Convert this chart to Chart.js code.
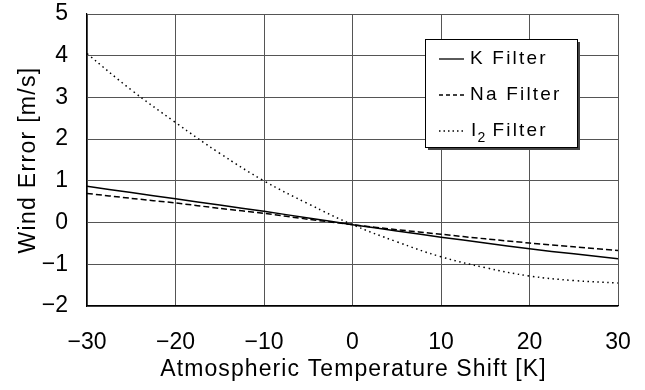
<!DOCTYPE html>
<html><head><meta charset="utf-8">
<script src="https://cdn.jsdelivr.net/npm/chart.js@4/dist/chart.umd.min.js"></script>
<style>html,body{margin:0;padding:0;background:#fff}#wrap{width:645px;height:390px}</style>
</head><body><div id="wrap"><canvas id="c" width="645" height="390"></canvas></div>
<script>
const temps = [-30,-25,-20,-15,-10,-5,0,5,10,15,20,25,30];
const kFilter = [0.87,0.72,0.57,0.42,0.27,0.11,-0.05,-0.2,-0.35,-0.49,-0.63,-0.75,-0.87];
const naFilter = [0.70,0.58,0.47,0.34,0.22,0.08,-0.05,-0.17,-0.28,-0.39,-0.49,-0.58,-0.67];
const i2Filter = [4.05,3.18,2.40,1.66,1.00,0.45,-0.05,-0.46,-0.82,-1.08,-1.28,-1.39,-1.45];
const xTicks = [-30,-20,-10,0,10,20,30];
const yTicks = [-2,-1,0,1,2,3,4,5];
const seriesNames = ['K Filter','Na Filter','I2 Filter'];
const xTitle = 'Atmospheric Temperature Shift [K]';
const yTitle = 'Wind Error [m/s]';

const pts = arr => temps.map((t,i)=>({x:t,y:arr[i]}));
const fmt = v => (v<0 ? '\u2212'+Math.abs(v) : String(v));
const FONT = 'Liberation Sans, Arial, sans-serif';

const canvas = document.getElementById('c');

const titlePlugin = {
  id:'axisTitles',
  afterDraw(chart){
    const ctx = chart.ctx, a = chart.chartArea;
    ctx.save();
    ctx.fillStyle='#000';
    ctx.textAlign='center';ctx.textBaseline='middle';
    ctx.font='23px '+FONT;
    ctx.letterSpacing='1.1px';
    ctx.fillText(xTitle,(a.left+a.right)/2+1,370);
    ctx.letterSpacing='1.3px';
    ctx.translate(29,(a.top+a.bottom)/2);
    ctx.rotate(-Math.PI/2);
    ctx.fillText(yTitle,0,0);
    ctx.restore();
  }
};

const legendPlugin = {
  id:'boxLegend',
  afterDraw(chart){
    const ctx = chart.ctx;
    const x0=425,y0=39,w=152,h=108;
    ctx.save();
    ctx.fillStyle='#444';
    ctx.fillRect(x0+3,y0+3,w,h);
    ctx.fillStyle='#fff';
    ctx.fillRect(x0,y0,w,h);
    ctx.strokeStyle='#000';ctx.lineWidth=1;
    ctx.strokeRect(x0+0.5,y0+0.5,w,h);
    const rows=[59,95,131];
    const dashes=[[],[4,3],[1.5,3]];
    ctx.letterSpacing='2.2px';
    ctx.font='19px '+FONT;
    ctx.textBaseline='middle';
    chart.data.datasets.forEach((ds,i)=>{
      ctx.beginPath();
      ctx.setLineDash(dashes[i]);
      ctx.lineWidth=1.3;ctx.strokeStyle='#000';
      ctx.moveTo(439,rows[i]);ctx.lineTo(464,rows[i]);ctx.stroke();
      ctx.setLineDash([]);
      ctx.fillStyle='#000';
      const name=seriesNames[i];
      if(name==='I2 Filter'){
        ctx.fillText('I',471,rows[i]);
        const wI=ctx.measureText('I').width;
        ctx.font='14px '+FONT;
        ctx.fillText('2',471+wI-1,rows[i]+7);
        const w2=ctx.measureText('2').width;
        ctx.font='19px '+FONT;
        ctx.fillText('Filter',471+wI+w2+4,rows[i]);
      } else {
        ctx.fillText(name,470,rows[i]);
      }
    });
    ctx.restore();
  }
};

new Chart(canvas,{
  type:'line',
  data:{datasets:[
    {label:seriesNames[0],data:pts(kFilter),borderColor:'#000',borderWidth:1.5,pointRadius:0,tension:0.3,fill:false},
    {label:seriesNames[1],data:pts(naFilter),borderColor:'#000',borderWidth:1.5,borderDash:[6,3],pointRadius:0,tension:0.3,fill:false},
    {label:seriesNames[2],data:pts(i2Filter),borderColor:'#000',borderWidth:1.5,borderDash:[1.5,3.5],pointRadius:0,tension:0.4,fill:false}
  ]},
  options:{
    responsive:false,animation:false,
    layout:{padding:{left:0,top:14,right:27,bottom:0}},
    plugins:{legend:{display:false},tooltip:{enabled:false}},
    scales:{
      x:{type:'linear',min:-30,max:30,
        afterBuildTicks(s){s.ticks=xTicks.map(v=>({value:v}));},
        afterFit(s){s.height=84;s.paddingLeft=0;s.paddingRight=0;},
        ticks:{callback:v=>fmt(v),color:'#000',font:{family:FONT,size:23},padding:23,maxRotation:0},
        grid:{color:'#555',lineWidth:1,drawTicks:false},
        border:{color:'#000',width:1.2},
        title:{display:false}
      },
      y:{type:'linear',min:-2,max:5,
        afterBuildTicks(s){s.ticks=yTicks.map(v=>({value:v}));},
        afterFit(s){s.width=87;s.paddingTop=0;s.paddingBottom=0;},
        ticks:{callback:v=>fmt(v),color:'#000',font:{family:FONT,size:23},padding:19},
        grid:{color:'#555',lineWidth:1,drawTicks:false},
        border:{color:'#000',width:1.2},
        title:{display:false}
      }
    }
  },
  plugins:[titlePlugin,legendPlugin]
});
</script></body></html>
